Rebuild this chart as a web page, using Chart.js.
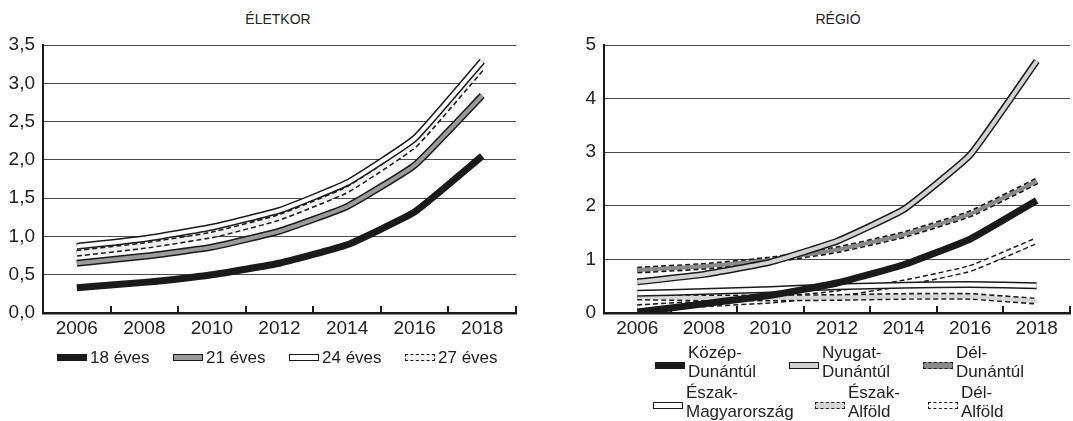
<!DOCTYPE html>
<html>
<head>
<meta charset="utf-8">
<script src="https://cdn.jsdelivr.net/npm/chart.js@4.4.1/dist/chart.umd.min.js"></script>
<style>
  html, body { margin: 0; padding: 0; background: #fff; }
  body { width: 1073px; height: 421px; position: relative; overflow: hidden;
         font-family: "Liberation Sans", Arial, sans-serif; color: #222; }
  canvas { position: absolute; top: 0; }
  #ageChart { left: 0; }
  #regionChart { left: 540px; }
  .ttl { position: absolute; top: 11px; font-size: 14px; transform: translateX(-50%); }
  .lg { position: absolute; display: flex; align-items: center; font-size: 17px; line-height: 19px; white-space: pre; }
  .sw { width: 30px; height: 7px; box-sizing: border-box; margin-right: 3px; flex: none; }
</style>
</head>
<body>
<div class="ttl" style="left:278px">ÉLETKOR</div>
<div class="ttl" style="left:838px">RÉGIÓ</div>
<canvas id="ageChart" width="540" height="421"></canvas>
<canvas id="regionChart" width="533" height="421"></canvas>
<div id="legends"></div>
<script>
const years = ['2006', '2008', '2010', '2012', '2014', '2016', '2018'];

// ÉLETKOR
const ageLabels = ['18 éves', '21 éves', '24 éves', '27 éves'];
const age18 = [0.33, 0.40, 0.50, 0.65, 0.89, 1.32, 2.05];
const age21 = [0.65, 0.74, 0.86, 1.07, 1.39, 1.93, 2.84];
const age24 = [0.87, 0.97, 1.12, 1.34, 1.70, 2.28, 3.29];
const age27 = [0.78, 0.88, 1.02, 1.25, 1.61, 2.20, 3.21];
const ageTicks = [0, 0.5, 1, 1.5, 2, 2.5, 3, 3.5];

// RÉGIÓ
const regionLabels = ['Közép-\nDunántúl', 'Nyugat-\nDunántúl', 'Dél-\nDunántúl',
  'Észak-\nMagyarország', 'Észak-\nAlföld', 'Dél-\nAlföld'];
const kozepDunantul = [0.02, 0.17, 0.33, 0.56, 0.90, 1.38, 2.10];
const nyugatDunantul = [0.58, 0.72, 0.95, 1.34, 1.93, 2.95, 4.70];
const delDunantul = [0.80, 0.87, 0.99, 1.18, 1.46, 1.85, 2.46];
const eszakMagyarorszag = [0.37, 0.40, 0.44, 0.49, 0.52, 0.53, 0.51];
const eszakAlfold = [0.30, 0.28, 0.28, 0.29, 0.31, 0.31, 0.22];
const delAlfold = [0.10, 0.17, 0.24, 0.36, 0.56, 0.83, 1.35];
const regionTicks = [0, 1, 2, 3, 4, 5];

const INK = '#1a1a1a';
const FONT = '"Liberation Sans", Arial, sans-serif';

// line looks: solid bar, or a fill colour with solid / dashed outline
const ageStyles = [
  { fill: INK, kind: 'solid', w: 7 },
  { fill: '#9a9a9a', kind: 'line', w: 7 },
  { fill: '#ffffff', kind: 'line', w: 7 },
  { fill: '#f0f0f0', kind: 'dash', w: 7 },
];
const regionStyles = [
  { fill: INK, kind: 'solid', w: 7 },
  { fill: '#d2d2d2', kind: 'line', w: 7 },
  { fill: '#8a8a8a', kind: 'dash', w: 7 },
  { fill: '#ffffff', kind: 'line', w: 7 },
  { fill: '#d6d6d6', kind: 'dash', w: 7 },
  { fill: '#ffffff', kind: 'dash', w: 7 },
];

// first series in the list ends up on top
function buildDatasets(series, styles) {
  const out = [];
  series.forEach((data, i) => {
    const st = styles[i];
    if (st.kind === 'solid') {
      out.push({ data, borderColor: st.fill, borderWidth: st.w });
      return;
    }
    out.push({ data, borderColor: st.fill, borderWidth: st.w - 3 });
    out.push({ data, borderColor: INK, borderWidth: st.w,
      borderDash: st.kind === 'dash' ? [5, 3] : [] });
  });
  return out;
}

const innerTicks = {
  id: 'innerTicks',
  afterDraw(chart) {
    const a = chart.chartArea, ctx = chart.ctx;
    const n = chart.scales.x.ticks.length;
    const step = (a.right - a.left) / n;
    ctx.save();
    ctx.strokeStyle = INK;
    ctx.lineWidth = 2;
    for (let i = 1; i <= n; i++) {
      const px = Math.round(a.left + i * step);
      ctx.beginPath();
      ctx.moveTo(px, a.bottom);
      ctx.lineTo(px, a.bottom - 7);
      ctx.stroke();
    }
    ctx.restore();
  },
};

function makeChart(id, datasets, ticks, yw, padRight, fmt) {
  return new Chart(document.getElementById(id), {
    type: 'line',
    data: { labels: years, datasets },
    plugins: [innerTicks],
    options: {
      responsive: false,
      animation: false,
      devicePixelRatio: 1,
      layout: { padding: { top: 45, right: padRight, left: 0, bottom: 0 } },
      plugins: { legend: { display: false }, tooltip: { enabled: false } },
      elements: {
        point: { radius: 0, hoverRadius: 0 },
        line: { tension: 0.12, borderCapStyle: 'butt', borderJoinStyle: 'miter' },
      },
      scales: {
        x: {
          offset: true,
          grid: { display: false, drawTicks: false, offset: true },
          border: { display: true, color: INK, width: 2.5 },
          ticks: { color: '#222', font: { size: 19, family: FONT }, padding: 4,
                   maxRotation: 0, autoSkip: false },
          afterFit: (s) => { s.height = 108; },
        },
        y: {
          min: ticks[0],
          max: ticks[ticks.length - 1],
          afterBuildTicks: (s) => { s.ticks = ticks.map((v) => ({ value: v })); },
          grid: { color: '#4a4a4a', lineWidth: 1, drawTicks: false },
          border: { color: INK, width: 2 },
          ticks: { color: '#222', font: { size: 19, family: FONT }, padding: 8, callback: fmt },
          afterFit: (s) => { s.width = yw; },
        },
      },
    },
  });
}

makeChart('ageChart', buildDatasets([age18, age21, age24, age27], ageStyles),
  ageTicks, 43, 24, (v) => v.toFixed(1).replace('.', ','));
makeChart('regionChart',
  buildDatasets([kozepDunantul, nyugatDunantul, delDunantul, eszakMagyarorszag, eszakAlfold, delAlfold], regionStyles),
  regionTicks, 64, 3, (v) => String(v));

// HTML legends
function swatchCss(st) {
  if (st.kind === 'solid') return `background:${st.fill};`;
  const b = st.kind === 'dash' ? 'dashed' : 'solid';
  return `background:${st.fill};border:1.2px ${b} ${INK};`;
}
const legendBox = document.getElementById('legends');
function addLegend(labels, styles, spots) {
  labels.forEach((txt, i) => {
    const el = document.createElement('div');
    el.className = 'lg';
    el.style.left = spots[i][0] + 'px';
    el.style.top = spots[i][1] + 'px';
    const sw = document.createElement('div');
    sw.className = 'sw';
    sw.style.cssText = swatchCss(styles[i]);
    if (txt.includes('\n')) sw.style.marginTop = '6px';
    const t = document.createElement('span');
    t.textContent = txt;
    el.appendChild(sw);
    el.appendChild(t);
    legendBox.appendChild(el);
  });
}
addLegend(ageLabels, ageStyles, [[57, 348], [173, 348], [289, 348], [405, 348]]);
addLegend(regionLabels, regionStyles,
  [[655, 343], [789, 343], [923, 343], [653, 383], [815, 383], [928, 383]]);
</script>
</body>
</html>
